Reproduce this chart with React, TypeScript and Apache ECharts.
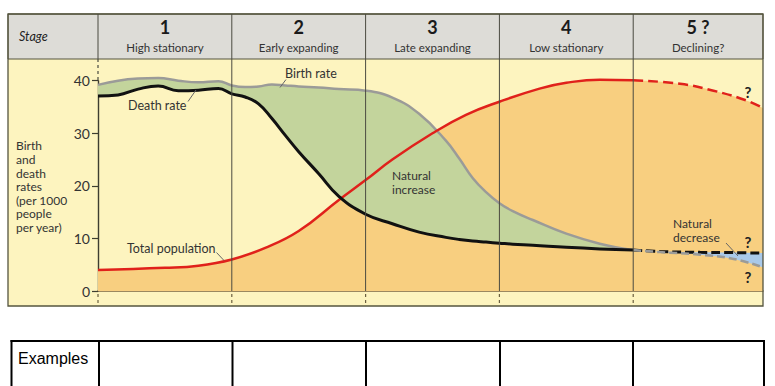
import React, { useEffect, useRef } from "react";
import * as echarts from "echarts";

// ---- data (stage units on x: 0..5, rates per 1000 on y) ----
const stageNumbers = ["1", "2", "3", "4", "5 ?"];
const stageNames = ["High stationary", "Early expanding", "Late expanding", "Low stationary", "Declining?"];
const axisTitleLines = ["Birth", "and", "death", "rates", "(per 1000", "people", "per year)"];

const rateX = [0, 0.15, 0.3, 0.45, 0.6, 0.75, 0.9, 1.0, 1.1, 1.2, 1.3, 1.4, 1.5, 1.65, 1.8, 2.0, 2.2, 2.4, 2.6, 2.7, 2.8, 2.9, 3.0, 3.1, 3.25, 3.5, 3.75, 4.0];
const birthRate = [39.2, 40.0, 40.4, 40.5, 40.0, 39.7, 39.9, 39.1, 38.8, 38.9, 39.3, 39.1, 38.9, 38.7, 38.4, 38.1, 36.8, 33.7, 28.6, 25.2, 21.5, 18.8, 16.7, 15.2, 13.5, 10.9, 9.0, 7.8];
const deathRate = [37.1, 37.3, 38.4, 39.0, 38.1, 38.2, 38.5, 37.5, 36.9, 35.6, 32.8, 29.6, 26.5, 22.3, 18.0, 14.6, 12.8, 11.2, 10.2, 9.8, 9.5, 9.3, 9.1, 8.9, 8.7, 8.3, 8.0, 7.8];

const futureX = [4.0, 4.2, 4.5, 4.75, 4.97];
const futureDeath = [7.8, 7.5, 7.35, 7.3, 7.2];
const futureBirth = [7.8, 7.4, 6.9, 6.1, 4.5];

const popX = [0, 0.5, 0.75, 1.0, 1.25, 1.5, 1.8, 2.0, 2.2, 2.5, 2.75, 3.0, 3.3, 3.5, 3.75, 4.0];
const population = [4.0, 4.4, 4.8, 6.0, 8.2, 11.4, 17.3, 21.1, 25.0, 30.0, 33.5, 36.0, 38.5, 39.6, 40.2, 40.1];
const popFutureX = [4.0, 4.35, 4.6, 4.85, 4.97];
const popFuture = [40.1, 39.4, 38.1, 36.2, 34.8];

// ---- layout ----
const W = 775;
const H = 386;
const GL = 98;
const GR = 12;
const GT = 80.7;
const GB = 95;
const XMAX = 4.97;
const SW = (W - GL - GR) / XMAX;
const sx = (s: number) => GL + s * SW;
const Y0 = H - GB;
const FL = 8;
const FR = 763;
const FT = 14;
const HB = 59;
const FB = 306;

const YELLOW = "#fdf4bf";
const ORANGE = "#f8cf80";
const GREEN = "#c3d49c";
const BLUE = "#a9c9ea";
const HEAD = "#dddcd7";
const GRAYLINE = "#9b9b98";
const RED = "#e0211b";
const FRAME = "#55553f";
const TXT = "#333";
const FONT = "Lato, 'Open Sans', sans-serif";
const SMOOTH = 0.45;

const pairs = (xs: number[], ys: number[]) => xs.map((x, i) => [x, ys[i]]);

function txt(text: string, x: number, y: number, font: string, align = "left", fill = TXT, lineHeight?: number) {
  return {
    type: "text",
    z: 120,
    silent: true,
    style: { text, x, y, font, fill, lineHeight, align, verticalAlign: "middle", textAlign: align, textVerticalAlign: "middle" },
  };
}
function ln(x1: number, y1: number, x2: number, y2: number, stroke: string, lineWidth: number, z = 100, dash?: number[]) {
  return {
    type: "line",
    z,
    silent: true,
    shape: { x1, y1, x2, y2 },
    style: { stroke, lineWidth, lineDash: dash },
  };
}

export default function App() {
  const ref = useRef<HTMLDivElement>(null);
  useEffect(() => {
    if (!ref.current) return;
    const chart = echarts.init(ref.current, null, { renderer: "svg" });

    const popAll = pairs(popX, population).concat(pairs(popFutureX.slice(1), popFuture.slice(1)));
    const g: any[] = [];
    // backgrounds
    g.push({ type: "rect", z: -10, silent: true, shape: { x: FL, y: HB, width: FR - FL, height: FB - HB }, style: { fill: YELLOW } });
    g.push({ type: "rect", z: 90, silent: true, shape: { x: FL, y: FT, width: FR - FL, height: HB - FT }, style: { fill: HEAD, stroke: FRAME, lineWidth: 1 } });
    g.push({ type: "rect", z: 95, silent: true, shape: { x: FL, y: FT, width: FR - FL, height: FB - FT }, style: { fill: "none", stroke: FRAME, lineWidth: 1.3 } });
    // stage dividers
    for (let k = 1; k < 5; k++) g.push(ln(sx(k), FT, sx(k), Y0, "#4a4a40", 1, 100));
    g.push(ln(GL, FT, GL, HB, "#4a4a40", 1, 100));
    g.push(ln(GL, HB, GL, GT, "#4a4a40", 1.2, 100, [3, 3]));
    for (let k = 0; k < 5; k++) g.push(ln(sx(k), Y0 + 3, sx(k), FB - 1, "#6b6040", 1.2, 100, [3, 3]));
    // header texts
    g.push(txt("Stage", 19, 36, `italic 12.5px ${FONT}`, "left", "#222"));
    for (let k = 0; k < 5; k++) {
      const cx = (sx(k) + Math.min(sx(k + 1), FR)) / 2;
      g.push(txt(stageNumbers[k], cx, 27, `bold 18px ${FONT}`, "center", "#1a1a1a"));
      g.push(txt(stageNames[k], cx, 47, `11.5px ${FONT}`, "center", "#333"));
    }
    // axis title
    g.push({
      type: "text", z: 120, silent: true,
      style: { text: axisTitleLines.join("\n"), x: 16, y: 139, font: `12px ${FONT}`, fill: "#333", lineHeight: 13.6, align: "left", verticalAlign: "top", textAlign: "left", textVerticalAlign: "top" },
    });
    // series labels + leaders
    g.push(txt("Birth rate", 285, 73, `12.5px ${FONT}`));
    g.push(ln(280, 87.5, 286, 79.5, "#666", 1));
    g.push(txt("Death rate", 128, 105, `12.5px ${FONT}`));
    g.push(ln(188, 101.5, 196, 90, "#666", 1));
    g.push(txt("Natural\nincrease", 392, 182.5, `12px ${FONT}`, "left", TXT, 13.6));
    g.push(txt("Total population", 127, 248, `12.5px ${FONT}`));
    g.push(ln(216.5, 252.5, 224, 260.5, "#666", 1));
    g.push(txt("Natural\ndecrease", 673, 230.5, `12px ${FONT}`, "left", TXT, 13.6));
    g.push(ln(726, 243, 738, 256, "#666", 1));
    g.push(txt("?", 748, 92, `bold 15px ${FONT}`, "center", "#222"));
    g.push(txt("?", 748, 242, `bold 15px ${FONT}`, "center", "#222"));
    g.push(txt("?", 748, 277, `bold 15px ${FONT}`, "center", "#222"));
    // examples table
    const tCols = [11.5, 99, 232.5, 366, 500, 633, 764];
    g.push(ln(10.5, 341, 765, 341, "#000", 2, 100));
    tCols.forEach((x) => g.push(ln(x, 340, x, H + 2, "#000", 2, 100)));
    g.push(txt("Examples", 18, 358, "16px 'Liberation Sans', Arial, sans-serif", "left", "#000"));

    const common = { smooth: SMOOTH, symbol: "none", silent: true, clip: false };
    chart.setOption({
      animation: false,
      grid: { left: GL, right: GR, top: GT, bottom: GB },
      xAxis: {
        type: "time",
        min: 0,
        max: XMAX,
        axisLine: { show: true, onZero: false, lineStyle: { color: "#7a6440", width: 1.5 } },
        axisTick: { show: false },
        axisLabel: { show: false },
        splitLine: { show: false },
      },
      yAxis: {
        type: "value",
        min: 0,
        max: 40,
        interval: 10,
        axisLine: { show: true, lineStyle: { color: "#3d3d30", width: 1.4 } },
        axisTick: { show: true, length: 6, lineStyle: { color: "#3d3d30", width: 1.2 } },
        axisLabel: { color: "#333", fontSize: 14, fontFamily: "Lato", margin: 8 },
        splitLine: { show: false },
      },
      series: [
        { ...common, type: "line", name: "popArea", data: popAll, lineStyle: { width: 0 }, areaStyle: { color: ORANGE, opacity: 1 }, z: 1 },
        { ...common, type: "line", name: "deathBase", stack: "inc", data: pairs(rateX, deathRate), lineStyle: { width: 0 }, z: 2 },
        {
          ...common, type: "line", name: "Birth rate", stack: "inc", data: rateX.map((x, i) => [x, birthRate[i] - deathRate[i]]),
          lineStyle: { color: GRAYLINE, width: 2.5 }, areaStyle: { color: GREEN, opacity: 1 }, z: 3,
        },
        {
          ...common, type: "line", name: "futureBirth", stack: "dec", data: pairs(futureX, futureBirth),
          lineStyle: { color: GRAYLINE, width: 2.5, type: [8, 4] }, z: 5,
        },
        {
          ...common, type: "line", name: "Natural decrease", stack: "dec", data: futureX.map((x, i) => [x, futureDeath[i] - futureBirth[i]]),
          lineStyle: { color: "#111", width: 3, type: [9, 4] }, areaStyle: { color: BLUE, opacity: 1 }, z: 4,
        },
        { ...common, type: "line", name: "Total population", data: pairs(popX, population), lineStyle: { color: RED, width: 2.5 }, z: 6 },
        { ...common, type: "line", name: "popFuture", data: pairs(popFutureX, popFuture), lineStyle: { color: RED, width: 2.5, type: [10, 5] }, z: 6 },
        { ...common, type: "line", name: "Death rate", data: pairs(rateX, deathRate), lineStyle: { color: "#111", width: 3 }, z: 7 },
      ],
      graphic: { elements: g },
    });
    return () => chart.dispose();
  }, []);
  return <div ref={ref} style={{ position: "absolute", left: 0, top: 0, width: W, height: H, background: "#fff" }} />;
}
